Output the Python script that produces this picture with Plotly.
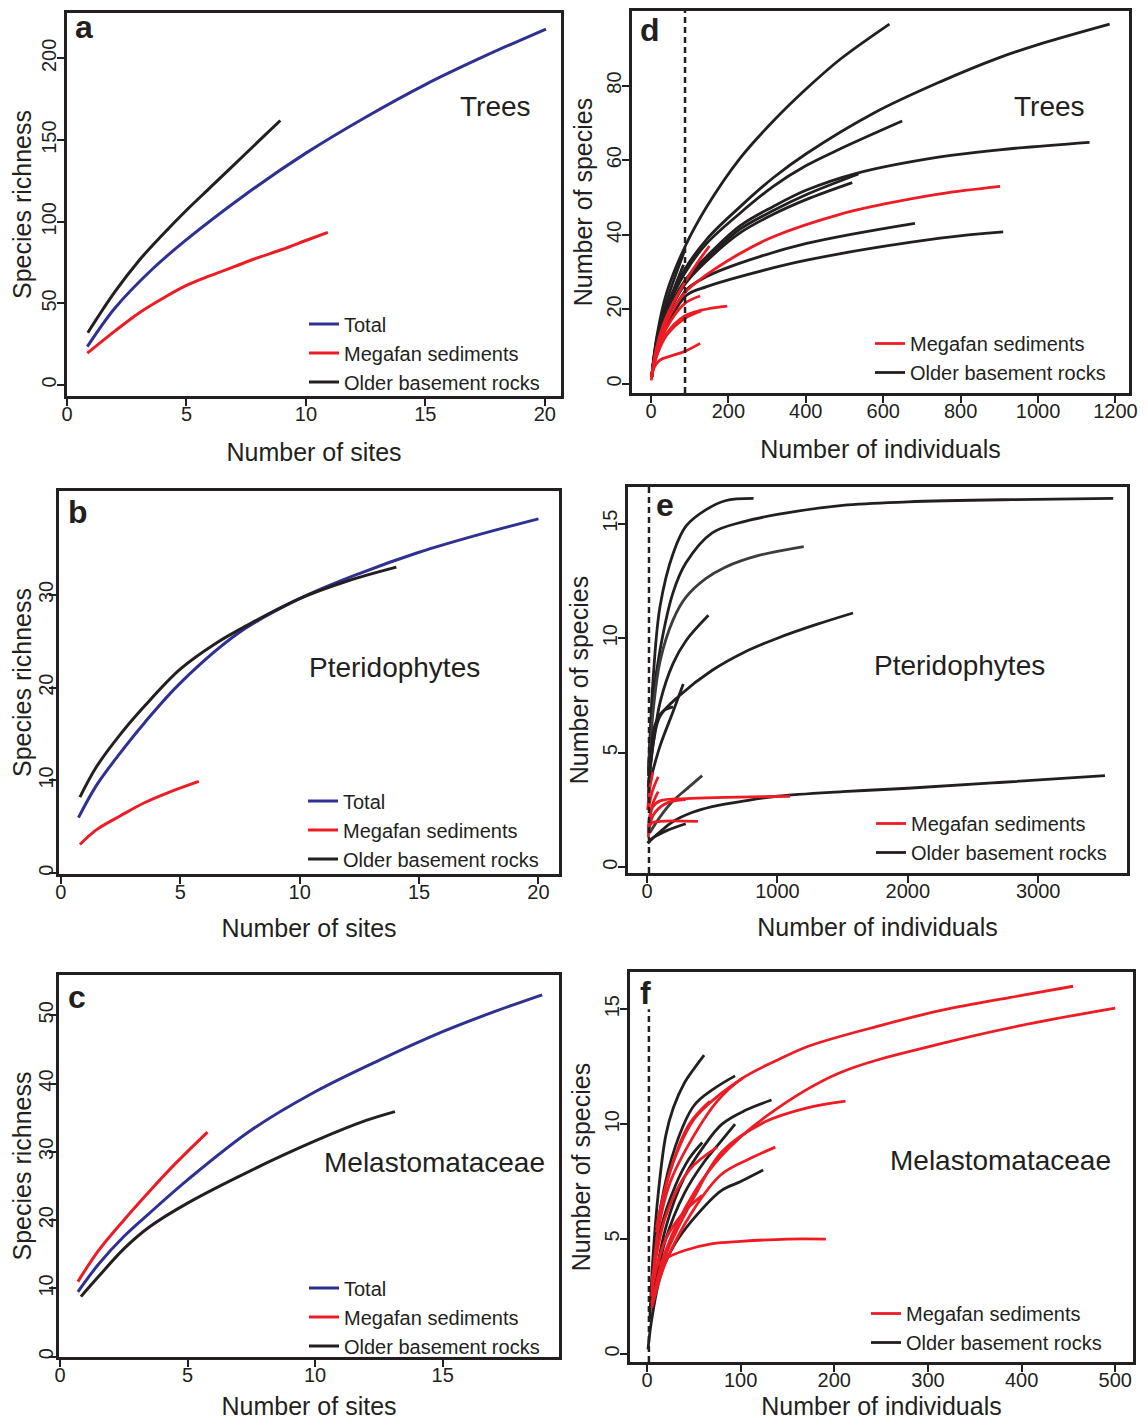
import plotly.graph_objects as go

# page is drawn inside an 8px body margin, so the figure is 16px smaller
OFF = 8
W, H = 1148 - 2 * OFF, 1428 - 2 * OFF
BLUE = "#2E3192"
RED = "#ED1C24"
BLACK = "#231F20"
GREY = "#3C3C3C"
FONT = "Liberation Sans, Arial, sans-serif"

# ---------------- data ----------------
# a: Trees, species richness vs number of sites
a_total_x = [0.85, 2, 3.5, 5, 7.5, 10, 12.5, 15, 17.5, 20.05]
a_total_y = [23.5, 47, 70, 89, 117, 142, 164, 184, 201.5, 218]
a_mega_x = [0.85, 2, 3, 4, 5, 6, 7, 8, 9, 10, 10.92]
a_mega_y = [19.5, 33, 44, 53, 61, 67, 72.5, 78, 83, 88.5, 93.5]
a_old_x = [0.87, 2, 3, 4, 5, 6, 7, 8, 8.93]
a_old_y = [32, 57, 76, 92, 107, 121, 135, 149, 162]

# b: Pteridophytes
b_total_x = [0.74, 1.5, 2.5, 3.5, 5, 7.5, 10, 12.5, 15, 17.5, 20]
b_total_y = [6, 9.5, 13, 16.2, 20.5, 26, 29.6, 32.3, 34.6, 36.5, 38.2]
b_mega_x = [0.8, 1.5, 2.5, 3.5, 4.5, 5.78]
b_mega_y = [3.1, 4.7, 6.2, 7.6, 8.7, 9.9]
b_old_x = [0.8, 1.5, 2.5, 3.5, 5, 6.5, 8, 10, 12, 14.05]
b_old_y = [8.2, 11.5, 15, 18, 22, 24.8, 27, 29.6, 31.5, 33]

# c: Melastomataceae
c_total_x = [0.7, 1.5, 2.5, 3.5, 5, 7.5, 10, 12.5, 15, 17, 18.9]
c_total_y = [9.5, 13.5, 17.6, 21, 25.9, 33.2, 38.8, 43.4, 47.6, 50.5, 53]
c_mega_x = [0.7, 1.5, 2.5, 3.5, 4.5, 5.78]
c_mega_y = [11, 15.5, 20, 24.2, 28.2, 32.9]
c_old_x = [0.82, 1.5, 2.5, 3.5, 5, 7.5, 10, 12, 13.13]
c_old_y = [8.8, 11.7, 15.8, 19, 22.5, 27.3, 31.6, 34.6, 35.9]

# d: Trees, species vs individuals (one list per site)
d_old_x = [
    [2, 15, 40, 86, 144, 230, 316, 402, 488, 616],
    [2, 15, 40, 86, 144, 230, 316, 402, 575, 747, 900, 1000, 1185],
    [2, 15, 40, 86, 144, 230, 316, 400, 488, 649],
    [2, 15, 40, 86, 144, 230, 316, 402, 531, 747, 900, 1133],
    [2, 15, 40, 86, 144, 230, 316, 402, 536],
    [2, 15, 40, 86, 144, 230, 316, 402, 520],
    [2, 15, 40, 92, 144, 230, 402, 682],
    [2, 15, 40, 92, 144, 230, 402, 747, 910],
    [2, 15, 40, 86],
    [2, 15, 40, 84],
]
d_old_y = [
    [2, 12.7, 24.3, 36.4, 47.5, 60.5, 70.5, 79.2, 87, 96.5],
    [2, 11.5, 20.5, 30.5, 38.8, 47.5, 55.3, 61.8, 72.6, 81, 87.5, 91, 96.5],
    [2, 11, 19.5, 29.5, 37.7, 45.8, 53, 58.5, 63, 70.5],
    [2, 10.5, 18.5, 27.5, 34.2, 42.4, 47.6, 52, 56.5, 60.9, 62.8, 64.8],
    [2, 10.5, 18, 27, 33.5, 41.5, 46.5, 50.8, 56.3],
    [2, 10, 17.5, 26.5, 33, 40.5, 45.5, 49.5, 54],
    [2, 9.5, 16, 25.3, 28.8, 32.4, 37.7, 43.1],
    [2, 9, 15.5, 23.8, 26.1, 28.8, 33.2, 39.1, 40.8],
    [2, 12, 22, 35.5],
    [2, 11, 20, 32],
]
d_mega_x = [
    [2, 15, 40, 86, 144, 230, 316, 488, 600, 747, 902],
    [2, 15, 40, 86, 120, 151],
    [2, 15, 40, 86, 127],
    [2, 15, 40, 86, 130, 197],
    [2, 15, 40, 86, 130],
    [1, 6, 23, 50, 86, 127],
]
d_mega_y = [
    [2, 9.5, 16.5, 24.3, 29.3, 35, 39.5, 45.5, 48.2, 51.0, 53],
    [2, 10, 18, 27, 32.5, 37],
    [2, 8.5, 15, 21.5, 23.6],
    [2, 8, 13.5, 18.2, 19.8, 20.9],
    [2, 7.5, 13, 17.5, 19.6],
    [1, 4, 6.4, 7.5, 8.7, 10.9],
]
d_cut = 88

# e: Pteridophytes
e_old_x = [
    [10, 50, 100, 200, 300, 450, 600, 817],
    [10, 50, 100, 200, 300, 500, 750, 1000, 1500, 2000, 2800, 3575],
    [10, 50, 100, 200, 300, 450, 600, 850, 1202],
    [10, 50, 100, 200, 300, 471],
    [10, 50, 100, 250, 500, 750, 1000, 1300, 1580],
    [30, 100, 200, 278],
    [10, 30, 60, 120, 199],
    [20, 100, 200, 300, 423],
    [5, 50, 100, 200, 350, 500, 750, 1000, 1500, 2000, 2700, 3512],
    [5, 50, 150, 297],
]
e_old_y = [
    [4, 8.5, 11.4, 13.7, 14.9, 15.6, 16, 16.1],
    [4, 7.5, 9.5, 12, 13.3, 14.6, 15.1, 15.4, 15.8, 15.95, 16.05, 16.1],
    [4, 7, 9, 10.8, 11.8, 12.6, 13.1, 13.6, 14],
    [3.5, 5.5, 7.2, 8.9, 9.9, 11],
    [3.5, 5.5, 6.6, 7.5, 8.6, 9.4, 10, 10.6, 11.1],
    [3.9, 5.3, 6.8, 8],
    [3, 5, 6.2, 6.8, 7],
    [1.5, 2.2, 2.9, 3.4, 4],
    [1.05, 1.3, 1.55, 2.0, 2.4, 2.65, 2.9, 3.1, 3.3, 3.45, 3.7, 4.0],
    [1.05, 1.3, 1.6, 1.9],
]
e_old_grey = [False, False, True, False, False, False, False, True, False, False]
e_mega_x = [
    [10, 40, 100, 300, 600, 1097],
    [10, 50, 150, 297],
    [10, 30, 100, 390],
    [10, 40, 86],
    [5, 20, 45],
    [10, 40, 86],
]
e_mega_y = [
    [1.7, 2.6, 2.9, 3.0, 3.05, 3.1],
    [1.5, 2.3, 2.8, 2.95],
    [1.3, 1.9, 2.0, 2.0],
    [2.5, 3.3, 3.95],
    [2.5, 3.4, 4.15],
    [1.5, 2.7, 3.3],
]
e_cut = 15

# f: Melastomataceae
f_mega_x = [
    [5, 12, 25, 50, 75, 102, 140, 173, 250, 314, 400, 455],
    [5, 20, 50, 79, 126, 204, 314, 400, 500],
    [5, 20, 50, 80, 126, 170, 212],
    [5, 20, 50, 79, 110, 137],
    [5, 10, 20, 40, 70, 100, 150, 191],
    [10, 25, 50, 75, 102],
    [10, 25, 45, 67],
    [5, 20, 45, 75],
    [5, 20, 40, 59],
]
f_mega_y = [
    [2.5, 5.4, 7.5, 9.5, 11, 12, 12.8, 13.4, 14.3, 14.95, 15.6, 16],
    [2.2, 4.5, 7.0, 8.6, 10.3, 12.2, 13.5, 14.3, 15.05],
    [2.2, 4.3, 6.8, 8.8, 10.1, 10.7, 11],
    [2, 4, 6.3, 7.8, 8.5, 9],
    [3.2, 3.8, 4.15, 4.5, 4.8, 4.9, 5.0, 5.0],
    [5.5, 8, 10.2, 11.2, 12],
    [5.3, 8, 10, 11],
    [3, 6, 8, 9],
    [2.8, 5, 6.2, 6.9],
]
f_old_x = [
    [3, 6, 12, 20, 28, 40, 50, 61],
    [5, 15, 30, 50, 70, 94],
    [5, 20, 40, 60, 80, 105, 133],
    [5, 20, 40, 60, 80, 94],
    [1, 5, 15, 30, 50, 79, 100, 124],
    [5, 15, 30, 45, 59],
]
f_old_y = [
    [1.5, 4, 7, 9.5, 10.7, 11.8, 12.4, 13],
    [2.5, 6.5, 9, 10.8, 11.5, 12.1],
    [2.3, 5.5, 7.7, 9, 10, 10.6, 11.05],
    [2.2, 5, 7, 8.3, 9.3, 10],
    [0.2, 1.5, 3.5, 4.8, 5.9, 7.1, 7.5, 8.0],
    [3, 5.5, 7.3, 8.5, 9.2],
]
f_cut = 2
f_cut_top = 15

# ---------------- layout geometry (page pixels) ----------------
panels = {
    "a": ("", [67, 561, 13, 396], [0, 20.68], [-6.7, 227.8], [0, 5, 10, 15, 20], [0, 50, 100, 150, 200]),
    "d": ("2", [632, 1129, 11, 393], [-49, 1235], [-2.4, 100], [0, 200, 400, 600, 800, 1000, 1200], [0, 20, 40, 60, 80]),
    "b": ("3", [59, 559, 491, 874], [-0.075, 20.86], [-0.08, 41.2], [0, 5, 10, 15, 20], [0, 10, 20, 30]),
    "e": ("4", [628, 1127, 487, 873], [-146, 3681], [-0.25, 16.6], [0, 1000, 2000, 3000], [0, 5, 10, 15]),
    "c": ("5", [59, 559, 975, 1357], [-0.04, 19.56], [-0.04, 55.9], [0, 5, 10, 15], [0, 10, 20, 30, 40, 50]),
    "f": ("6", [630, 1133, 972, 1362], [-18.2, 519], [-0.35, 16.62], [0, 100, 200, 300, 400, 500], [0, 5, 10, 15]),
}
xtitles = {"a": "Number of sites", "b": "Number of sites", "c": "Number of sites",
           "d": "Number of individuals", "e": "Number of individuals", "f": "Number of individuals"}
ytitles = {"a": "Species richness", "b": "Species richness", "c": "Species richness",
           "d": "Number of species", "e": "Number of species", "f": "Number of species"}
xtitle_standoff = {"a": 20, "d": 20, "b": 18, "e": 18, "c": 26, "f": 26}
ylabel_standoff = {"a": -7, "d": -7, "b": -12, "e": -7, "c": -12, "f": -7}
groups = {"a": "Trees", "d": "Trees", "b": "Pteridophytes", "e": "Pteridophytes",
          "c": "Melastomataceae", "f": "Melastomataceae"}
group_pos = {"a": (495, 107), "d": (1049, 107), "b": (394, 667), "e": (959, 665),
             "c": (434, 1162), "f": (1000, 1160)}
letter_pos = {"a": (73, 27), "d": (638, 30), "b": (66, 512), "e": (654, 505), "c": (66, 997), "f": (638, 993)}
legend_pos = {"a": (304, 353), "b": (303, 830), "c": (304, 1317),
              "d": (870, 358), "e": (871, 838), "f": (866, 1328)}
legend_names = {"a": "legend", "d": "legend2", "b": "legend3", "e": "legend4", "c": "legend5", "f": "legend6"}


def fx(px):
    return (px - OFF) / W


def fy(py):
    return 1 - (py - OFF) / H


fig = go.Figure()


def add_line(p, x, y, color, name, show, rank, width=3):
    suf = panels[p][0]
    fig.add_trace(go.Scatter(
        x=x, y=y, mode="lines", name=name, showlegend=show,
        legend=legend_names[p], legendgroup=name + p, legendrank=rank,
        line=dict(color=color, width=width, shape="spline", smoothing=1.0),
        xaxis="x" + suf, yaxis="y" + suf, hoverinfo="skip"))


for p, tot, meg, old in [
    ("a", (a_total_x, a_total_y), (a_mega_x, a_mega_y), (a_old_x, a_old_y)),
    ("b", (b_total_x, b_total_y), (b_mega_x, b_mega_y), (b_old_x, b_old_y)),
    ("c", (c_total_x, c_total_y), (c_mega_x, c_mega_y), (c_old_x, c_old_y)),
]:
    add_line(p, tot[0], tot[1], BLUE, "Total", True, 1)
    add_line(p, meg[0], meg[1], RED, "Megafan sediments", True, 2)
    add_line(p, old[0], old[1], BLACK, "Older basement rocks", True, 3)


def add_dash(p, xv, y0, y1):
    suf = panels[p][0]
    fig.add_trace(go.Scatter(
        x=[xv, xv], y=[y0, y1], mode="lines", showlegend=False,
        line=dict(color=BLACK, width=2.5, dash="6px,4px"),
        xaxis="x" + suf, yaxis="y" + suf, hoverinfo="skip"))


for p, megx, megy, oldx, oldy in [
    ("d", d_mega_x, d_mega_y, d_old_x, d_old_y),
    ("e", e_mega_x, e_mega_y, e_old_x, e_old_y),
    ("f", f_mega_x, f_mega_y, f_old_x, f_old_y),
]:
    for i, (xx, yy) in enumerate(zip(oldx, oldy)):
        col = GREY if (p == "e" and e_old_grey[i]) else BLACK
        add_line(p, xx, yy, col, "Older basement rocks", i == 0, 2, width=2.8)
    for i, (xx, yy) in enumerate(zip(megx, megy)):
        add_line(p, xx, yy, RED, "Megafan sediments", i == 0, 1, width=2.8)

add_dash("d", d_cut, panels["d"][3][0], panels["d"][3][1])
add_dash("e", e_cut, panels["e"][3][0], panels["e"][3][1])
add_dash("f", f_cut, panels["f"][3][0], f_cut_top)

layout = dict(
    width=W, height=H, margin=dict(l=0, r=0, t=0, b=0),
    paper_bgcolor="white", plot_bgcolor="white",
    font=dict(family=FONT, color=BLACK),
)

annotations = []
for p, (suf, box, xr, yr, xt, yt) in panels.items():
    l, r, t, b = box
    axstyle = dict(showgrid=False, zeroline=False, showline=True, mirror=True,
                   linecolor=BLACK, linewidth=3, ticks="outside", ticklen=7,
                   tickwidth=2, tickcolor=BLACK, automargin=False,
                   tickfont=dict(family=FONT, size=20, color=BLACK))
    layout["xaxis" + suf] = dict(
        axstyle, domain=[fx(l), fx(r)], range=xr, tickvals=xt,
        anchor="y" + suf, ticklabelstandoff=-9,
        title=dict(text=xtitles[p], font=dict(family=FONT, size=25, color=BLACK),
                   standoff=xtitle_standoff[p]))
    layout["yaxis" + suf] = dict(
        axstyle, domain=[fy(b), fy(t)], range=yr, tickvals=yt,
        anchor="x" + suf, tickangle=-90, ticklabelstandoff=ylabel_standoff[p],
        title=dict(text=ytitles[p], font=dict(family=FONT, size=25, color=BLACK), standoff=4))
    gx, gy = group_pos[p]
    annotations.append(dict(text=groups[p], x=fx(gx), y=fy(gy), xref="paper", yref="paper",
                            xanchor="center", yanchor="middle", showarrow=False,
                            font=dict(family=FONT, size=28, color=BLACK)))
    lx, ly = letter_pos[p]
    annotations.append(dict(text="<b>" + p + "</b>", x=fx(lx), y=fy(ly), xref="paper", yref="paper",
                            xanchor="left", yanchor="middle", showarrow=False,
                            font=dict(family=FONT, size=32, color=BLACK)))
    gxl, gyl = legend_pos[p]
    layout[legend_names[p]] = dict(
        x=fx(gxl), y=fy(gyl), xanchor="left", yanchor="middle",
        bgcolor="rgba(0,0,0,0)", borderwidth=0,
        font=dict(family=FONT, size=20, color=BLACK), traceorder="normal")

layout["annotations"] = annotations
fig.update_layout(**layout)
fig.write_html("out.html")
